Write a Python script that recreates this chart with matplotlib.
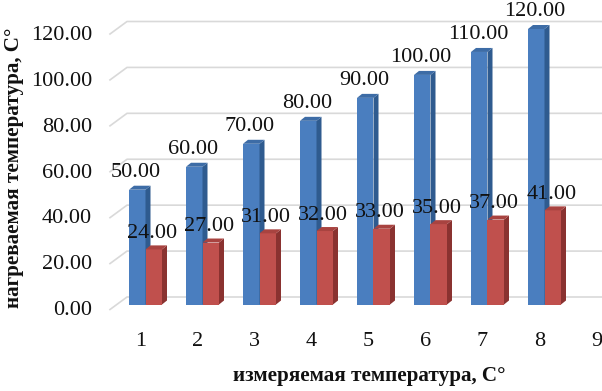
import matplotlib
matplotlib.use("Agg")
import matplotlib.pyplot as plt
from matplotlib.patches import Polygon, Rectangle

plt.rcParams['font.family'] = ['Liberation Serif', 'DejaVu Serif']

categories = [1, 2, 3, 4, 5, 6, 7, 8, 9]
heated = [50, 60, 70, 80, 90, 100, 110, 120]
measured = [24, 27, 31, 32, 33, 35, 37, 41]
yticks = [0, 20, 40, 60, 80, 100, 120]
ytick_labels = ["%.2f" % v for v in yticks]
xlabel = "измеряемая температура, С°"
ylabel = "нагреваемая температура, С°"

W, H = 602, 391
fig = plt.figure(figsize=(W / 100, H / 100), dpi=100)

# pixel geometry
px_left = 110
cat_spacing = 57.0
first_center = 145.5
y0_px = 304.5
y120_px = 29.0
ppu = (y0_px - y120_px) / 120.0

ax = fig.add_axes([px_left / W, (H - y0_px) / H, (W - px_left) / W, (y0_px - y120_px) / H])
xl = 1 - (first_center - px_left) / cat_spacing
xr = 1 + (W - first_center) / cat_spacing
ax.set_xlim(xl, xr)
ax.set_ylim(0, 120)
ax.axis('off')

def dx(px):
    return px / cat_spacing

def dy(px):
    return px / ppu

# gridlines with perspective floor/wall
for v in yticks:
    ax.plot([xl, xl + dx(17), xr], [v - dy(5), v + dy(7.5), v + dy(7.5)],
            color='#d9d9d9', lw=1.2, clip_on=False, zorder=1)

bw = dx(16.5)
sdx, sdy = dx(5), dy(4)

def bar3d(x0, h, front, side, top, z):
    ax.add_patch(Rectangle((x0, 0), bw, h, facecolor=front, edgecolor='none', zorder=z, clip_on=False))
    ax.add_patch(Polygon([(x0 + bw, 0), (x0 + bw + sdx, sdy), (x0 + bw + sdx, h + sdy), (x0 + bw, h)],
                         closed=True, facecolor=side, edgecolor='none', zorder=z, clip_on=False))
    ax.add_patch(Polygon([(x0, h), (x0 + sdx, h + sdy), (x0 + bw + sdx, h + sdy), (x0 + bw, h)],
                         closed=True, facecolor=top, edgecolor='none', zorder=z, clip_on=False))

for i, (b, r) in enumerate(zip(heated, measured)):
    c = categories[i]
    bar3d(c - bw, b, '#4a7ebf', '#2f5b8f', '#3d6ca6', 3 + i * 0.01)
    bar3d(c, r, '#c0504d', '#8a3230', '#a84340', 4 + i * 0.01)

FS = 16
lab_kw = dict(fontsize=FS, color='#111111', ha='center', va='center',
              textcoords='offset points', annotation_clip=False, zorder=10)
for i, (b, r) in enumerate(zip(heated, measured)):
    c = categories[i]
    ax.annotate("%.2f" % b, (c - bw / 2, b), xytext=(-1, 12.5), **lab_kw)
    ax.annotate("%.2f" % r, (c + bw / 2, r), xytext=(-1, 11.5), **lab_kw)

# y tick labels
for v, t in zip(yticks, ytick_labels):
    ax.annotate(t, (xl, v), xytext=(-13, -4.5), textcoords='offset points',
                ha='right', va='center', fontsize=FS, color='#111111', annotation_clip=False)

# x tick labels
for c in categories:
    ax.annotate(str(c), (c, 0), xytext=(-3.6, -27), textcoords='offset points',
                ha='center', va='center', fontsize=FS, color='#111111', annotation_clip=False)

fig.text(369 / W, (H - 376) / H, xlabel, ha='center', va='center', fontsize=15.2,
         fontweight='bold', color='#111111')
fig.text(14 / W, (H - 168) / H, ylabel, ha='center', va='center', rotation=90,
         fontsize=15.2, fontweight='bold', color='#111111')

fig.savefig("out.png", dpi=100)
